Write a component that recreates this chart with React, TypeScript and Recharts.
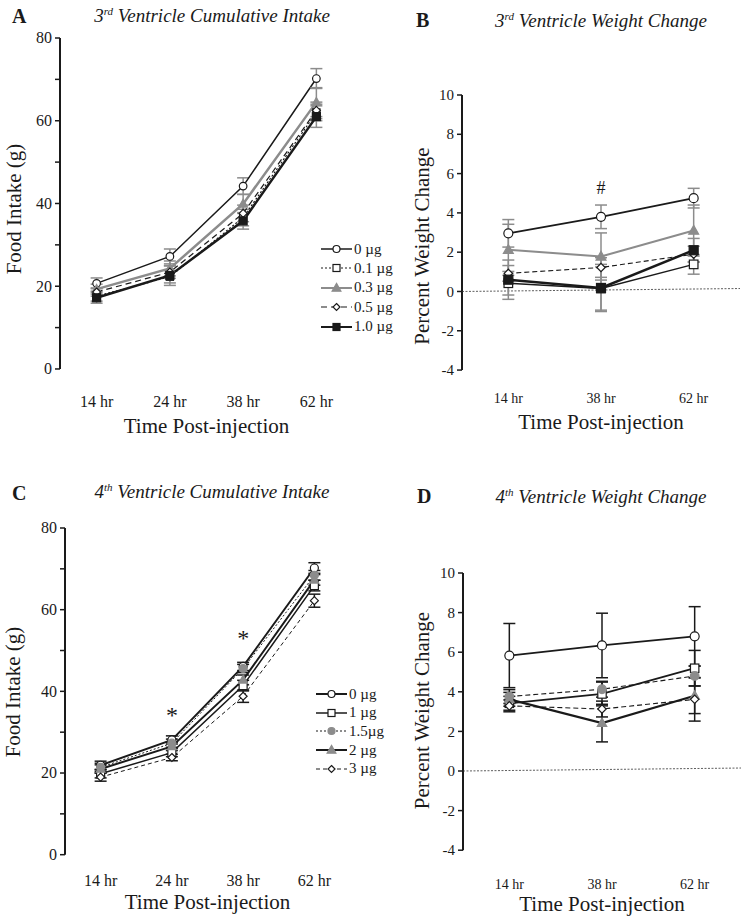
import React from 'react';
import { LineChart, Line, XAxis, YAxis, ErrorBar, ReferenceLine, ReferenceDot } from 'recharts';

const FONT = "'Liberation Serif', 'Times New Roman', serif";
const GREY = '#8c8c8c';
const INK = '#1a1a1a';

// ---- 3rd ventricle (A, B) ----
const timesA = ['14 hr', '24 hr', '38 hr', '62 hr'];
const intake3_0 = [20.7, 27.2, 44.2, 70.2];
const intake3_0e = [1.3, 1.8, 2.0, 2.4];
const intake3_01 = [17.6, 22.3, 36.6, 62.0];
const intake3_01e = [1.2, 1.5, 2.0, 2.0];
const intake3_03 = [19.3, 24.3, 39.9, 64.5];
const intake3_03e = [1.2, 1.8, 2.3, 3.5];
const intake3_05 = [18.6, 23.4, 37.6, 62.5];
const intake3_05e = [1.0, 1.5, 2.0, 2.0];
const intake3_10 = [17.2, 22.6, 35.8, 61.0];
const intake3_10e = [1.3, 2.4, 2.0, 2.6];

const timesB = ['14 hr', '38 hr', '62 hr'];
const weight3_0 = [2.96, 3.8, 4.75];
const weight3_0e = [0.7, 0.6, 0.5];
const weight3_01 = [0.42, 0.15, 1.38];
const weight3_01e = [0.6, 1.1, 0.5];
const weight3_03 = [2.12, 1.78, 3.1];
const weight3_03e = [1.3, 1.2, 1.3];
const weight3_05 = [0.92, 1.22, 1.9];
const weight3_05e = [0.4, 0.5, 0.4];
const weight3_10 = [0.6, 0.18, 2.1];
const weight3_10e = [1.0, 1.2, 0.6];
const notesB = [{ at: '38 hr', y: 5.3, text: '#' }];

// ---- 4th ventricle (C, D) ----
const timesC = ['14 hr', '24 hr', '38 hr', '62 hr'];
const intake4_0 = [21.9, 28.1, 46.1, 70.2];
const intake4_0e = [1.0, 1.0, 1.0, 1.3];
const intake4_1 = [19.8, 25.0, 41.4, 65.9];
const intake4_1e = [1.0, 1.0, 1.3, 1.3];
const intake4_15 = [21.4, 27.3, 45.6, 68.4];
const intake4_15e = [1.0, 1.0, 1.0, 1.2];
const intake4_2 = [21.0, 26.5, 42.8, 67.3];
const intake4_2e = [1.0, 1.0, 1.2, 1.3];
const intake4_3 = [19.0, 23.8, 38.8, 62.2];
const intake4_3e = [1.0, 0.8, 1.5, 1.6];
const notesC = [
  { at: '24 hr', y: 34.3, text: '*' },
  { at: '38 hr', y: 53.2, text: '*' },
];

const timesD = ['14 hr', '38 hr', '62 hr'];
const weight4_0 = [5.83, 6.34, 6.8];
const weight4_0e = [1.62, 1.63, 1.5];
const weight4_1 = [3.42, 3.89, 5.19];
const weight4_1e = [0.35, 0.6, 0.9];
const weight4_15 = [3.76, 4.13, 4.8];
const weight4_15e = [0.35, 0.4, 0.5];
const weight4_2 = [3.62, 2.42, 3.8];
const weight4_2e = [0.35, 0.95, 0.9];
const weight4_3 = [3.29, 3.13, 3.62];
const weight4_3e = [0.3, 0.4, 1.1];

type Kind = 'circle' | 'square' | 'triangle' | 'diamond';

interface Series {
  name: string;
  vals: number[];
  errs: number[];
  stroke: string;
  width: number;
  dash?: string;
  kind: Kind;
  fill: string;
  mStroke: string;
  size: number;
  errColor: string;
}

const Marker = ({ cx, cy, kind, fill, stroke, size }: any) => {
  if (cx == null || cy == null) return null;
  const sw = 1.2;
  if (kind === 'circle') return <circle cx={cx} cy={cy} r={size} fill={fill} stroke={stroke} strokeWidth={sw} />;
  if (kind === 'square')
    return <rect x={cx - size} y={cy - size} width={size * 2} height={size * 2} fill={fill} stroke={stroke} strokeWidth={sw} />;
  if (kind === 'triangle')
    return (
      <polygon
        points={`${cx},${cy - size * 1.15} ${cx + size * 1.1},${cy + size * 0.8} ${cx - size * 1.1},${cy + size * 0.8}`}
        fill={fill}
        stroke={stroke}
        strokeWidth={sw}
      />
    );
  return (
    <polygon
      points={`${cx},${cy - size} ${cx + size},${cy} ${cx},${cy + size} ${cx - size},${cy}`}
      fill={fill}
      stroke={stroke}
      strokeWidth={sw}
    />
  );
};

const seriesA: Series[] = [
  { name: '0 µg', vals: intake3_0, errs: intake3_0e, stroke: INK, width: 1.5, kind: 'circle', fill: '#fff', mStroke: INK, size: 3.8, errColor: GREY },
  { name: '0.1 µg', vals: intake3_01, errs: intake3_01e, stroke: INK, width: 1.2, dash: '2 2', kind: 'square', fill: '#fff', mStroke: INK, size: 3.6, errColor: GREY },
  { name: '0.3 µg', vals: intake3_03, errs: intake3_03e, stroke: GREY, width: 2.5, kind: 'triangle', fill: GREY, mStroke: GREY, size: 4, errColor: GREY },
  { name: '0.5 µg', vals: intake3_05, errs: intake3_05e, stroke: INK, width: 1.2, dash: '6 4', kind: 'diamond', fill: '#fff', mStroke: INK, size: 4, errColor: GREY },
  { name: '1.0 µg', vals: intake3_10, errs: intake3_10e, stroke: INK, width: 2.5, kind: 'square', fill: INK, mStroke: INK, size: 4, errColor: GREY },
];

const seriesB: Series[] = [
  { name: '0 µg', vals: weight3_0, errs: weight3_0e, stroke: INK, width: 1.8, kind: 'circle', fill: '#fff', mStroke: INK, size: 4.5, errColor: GREY },
  { name: '0.1 µg', vals: weight3_01, errs: weight3_01e, stroke: INK, width: 1.5, kind: 'square', fill: '#fff', mStroke: INK, size: 4.3, errColor: GREY },
  { name: '0.3 µg', vals: weight3_03, errs: weight3_03e, stroke: GREY, width: 2, kind: 'triangle', fill: GREY, mStroke: GREY, size: 4.5, errColor: GREY },
  { name: '0.5 µg', vals: weight3_05, errs: weight3_05e, stroke: INK, width: 1.1, dash: '5 3', kind: 'diamond', fill: '#fff', mStroke: INK, size: 4.2, errColor: GREY },
  { name: '1.0 µg', vals: weight3_10, errs: weight3_10e, stroke: INK, width: 2.5, kind: 'square', fill: INK, mStroke: INK, size: 4.5, errColor: GREY },
];

const seriesC: Series[] = [
  { name: '0 µg', vals: intake4_0, errs: intake4_0e, stroke: INK, width: 2, kind: 'circle', fill: '#fff', mStroke: INK, size: 4, errColor: INK },
  { name: '1 µg', vals: intake4_1, errs: intake4_1e, stroke: INK, width: 1.5, kind: 'square', fill: '#fff', mStroke: INK, size: 4, errColor: INK },
  { name: '1.5µg', vals: intake4_15, errs: intake4_15e, stroke: INK, width: 1, dash: '2 2', kind: 'circle', fill: GREY, mStroke: GREY, size: 4, errColor: INK },
  { name: '2 µg', vals: intake4_2, errs: intake4_2e, stroke: INK, width: 2, kind: 'triangle', fill: GREY, mStroke: GREY, size: 4, errColor: INK },
  { name: '3 µg', vals: intake4_3, errs: intake4_3e, stroke: INK, width: 1, dash: '4 3', kind: 'diamond', fill: '#fff', mStroke: INK, size: 4, errColor: INK },
];

const seriesD: Series[] = [
  { name: '0 µg', vals: weight4_0, errs: weight4_0e, stroke: INK, width: 1.8, kind: 'circle', fill: '#fff', mStroke: INK, size: 4.5, errColor: INK },
  { name: '1 µg', vals: weight4_1, errs: weight4_1e, stroke: INK, width: 1.8, kind: 'square', fill: '#fff', mStroke: INK, size: 4.2, errColor: INK },
  { name: '1.5µg', vals: weight4_15, errs: weight4_15e, stroke: INK, width: 1.1, dash: '5 3', kind: 'circle', fill: GREY, mStroke: GREY, size: 4.3, errColor: INK },
  { name: '2 µg', vals: weight4_2, errs: weight4_2e, stroke: INK, width: 2.2, kind: 'triangle', fill: GREY, mStroke: GREY, size: 4.3, errColor: INK },
  { name: '3 µg', vals: weight4_3, errs: weight4_3e, stroke: INK, width: 1.1, dash: '5 3', kind: 'diamond', fill: '#fff', mStroke: INK, size: 4.2, errColor: INK },
];

const YTick = ({ x, y, payload, every, fs }: any) => {
  if (payload.value % every !== 0) return null;
  return (
    <text x={x} y={y} dy={fs * 0.34} textAnchor="end" fontSize={fs} fontFamily={FONT} fill={INK}>
      {payload.value}
    </text>
  );
};

interface PanelProps {
  left: number;
  top: number;
  width: number;
  height: number;
  mTop: number;
  mRight: number;
  yWidth: number;
  yDomain: [number, number];
  yTicks: number[];
  every: number;
  yFont: number;
  xFont: number;
  labH: number;
  tickGap: number;
  titleOffset: number;
  cats: string[];
  series: Series[];
  yLabel: string;
  yDx: number;
  yDy: number;
  zero?: boolean;
  notes?: { at: string; y: number; text: string }[];
  noteSize?: number;
}

const Panel = (p: PanelProps) => {
  const n = p.cats.length;
  const rows = p.cats.map((c, i) => {
    const r: any = { x: i + 0.5, cat: c };
    p.series.forEach((s, k) => {
      r['v' + k] = s.vals[i];
      r['e' + k] = s.errs[i];
    });
    return r;
  });
  const edgeTicks = Array.from({ length: n + 1 }, (_, i) => i);
  const labTicks = p.cats.map((_, i) => i + 0.5);
  const yMin = p.yTicks[0];
  const yMax = p.yTicks[p.yTicks.length - 1];
  return (
    <div style={{ position: 'absolute', left: p.left, top: p.top }}>
      <LineChart width={p.width} height={p.height} data={rows} margin={{ top: p.mTop, right: p.mRight, bottom: 0, left: 0 }}>
        <XAxis
          xAxisId="edge"
          type="number"
          dataKey="x"
          domain={[0, n]}
          ticks={edgeTicks}
          tick={false}
          height={0}
          axisLine={{ stroke: INK, strokeWidth: 2 }}
          tickLine={{ stroke: INK, strokeWidth: 1.5 }}
          tickSize={6}
        />
        <XAxis
          xAxisId="lab"
          type="number"
          dataKey="x"
          domain={[0, n]}
          ticks={labTicks}
          tickFormatter={(v: number) => p.cats[Math.floor(v)]}
          axisLine={false}
          tickLine={false}
          height={p.labH}
          tickMargin={p.tickGap}
          tick={{ fill: INK, fontSize: p.xFont, fontFamily: FONT }}
          label={{ value: 'Time Post-injection', position: 'insideBottom', offset: p.titleOffset, fontSize: 21, fontFamily: FONT, fill: INK }}
        />
        <YAxis
          type="number"
          domain={p.yDomain}
          ticks={p.yTicks}
          width={p.yWidth}
          axisLine={false}
          tickLine={{ stroke: INK, strokeWidth: 1.5 }}
          tickSize={5}
          tickMargin={3}
          interval={0}
          tick={(t: any) => <YTick key={t.index} {...t} every={p.every} fs={p.yFont} />}
          label={{ value: p.yLabel, angle: -90, position: 'center', dx: p.yDx, dy: p.yDy, fontSize: 21, fontFamily: FONT, fill: INK }}
        />
        <ReferenceLine xAxisId="lab" segment={[{ x: 0, y: yMin }, { x: 0, y: yMax }]} stroke={INK} strokeWidth={2} />
        {p.zero && (
          <ReferenceLine xAxisId="lab" segment={[{ x: 0, y: 0 }, { x: n, y: 0.15 }]} stroke="#333" strokeWidth={0.8} strokeDasharray="2 1.5" />
        )}
        {p.series.map((s, k) => (
          <Line
            key={s.name}
            xAxisId="lab"
            dataKey={'v' + k}
            name={s.name}
            stroke={s.stroke}
            strokeWidth={s.width}
            strokeDasharray={s.dash}
            isAnimationActive={false}
            activeDot={false}
            dot={(d: any) => <Marker key={d.index} cx={d.cx} cy={d.cy} kind={s.kind} fill={s.fill} stroke={s.mStroke} size={s.size} />}
          >
            <ErrorBar dataKey={'e' + k} width={6} stroke={s.errColor} strokeWidth={1.5} direction="y" />
          </Line>
        ))}
        {(p.notes || []).map((m) => (
          <ReferenceDot
            key={m.at + m.text}
            xAxisId="lab"
            x={p.cats.indexOf(m.at) + 0.5}
            y={m.y}
            r={1}
            fill="none"
            stroke="none"
            label={{ value: m.text, position: 'center', fontSize: p.noteSize || 20, fontFamily: FONT, fill: INK }}
          />
        ))}
      </LineChart>
    </div>
  );
};

const LegendBox = ({ left, top, gap, items }: { left: number; top: number; gap: number; items: Series[] }) => (
  <div style={{ position: 'absolute', left, top, fontFamily: FONT, fontSize: 15, color: INK }}>
    {items.map((s, i) => (
      <div key={s.name} style={{ position: 'absolute', left: 0, top: i * gap, height: 16, display: 'flex', alignItems: 'center', whiteSpace: 'nowrap' }}>
        <svg width={32} height={14}>
          <line x1={0} x2={31} y1={7} y2={7} stroke={s.stroke} strokeWidth={Math.min(s.width, 2)} strokeDasharray={s.dash} />
          <Marker cx={15.5} cy={7} kind={s.kind} fill={s.fill} stroke={s.mStroke} size={s.kind === 'triangle' ? 4 : 3.5} />
        </svg>
        <span style={{ marginLeft: 1 }}>{s.name}</span>
      </div>
    ))}
  </div>
);

const Heading = ({ left, top, letter, title, sup, rest, titleCenter, titleTop }: any) => (
  <>
    <div style={{ position: 'absolute', left, top, fontFamily: FONT, fontWeight: 'bold', fontSize: 20, lineHeight: 1, color: INK }}>{letter}</div>
    <div
      style={{
        position: 'absolute',
        left: titleCenter - 170,
        width: 340,
        top: titleTop,
        textAlign: 'center',
        fontFamily: FONT,
        fontStyle: 'italic',
        fontSize: 19,
        lineHeight: 1,
        color: INK,
        whiteSpace: 'nowrap',
      }}
    >
      {title}
      <sup style={{ fontSize: 11, verticalAlign: 'top', lineHeight: 1 }}>{sup}</sup>
      {rest}
    </div>
  </>
);

export default function App() {
  return (
    <div style={{ position: 'absolute', left: 0, top: 0, width: 741, height: 917, background: '#fff', overflow: 'hidden' }}>
      <Heading left={12} top={6} letter="A" title="3" sup="rd" rest=" Ventricle Cumulative Intake" titleCenter={212} titleTop={6} />
      <Heading left={416} top={10} letter="B" title="3" sup="rd" rest=" Ventricle Weight Change" titleCenter={601} titleTop={11} />
      <Heading left={12} top={483} letter="C" title="4" sup="th" rest=" Ventricle Cumulative Intake" titleCenter={212} titleTop={482} />
      <Heading left={417} top={486} letter="D" title="4" sup="th" rest=" Ventricle Weight Change" titleCenter={601} titleTop={487} />

      <Panel
        left={0}
        top={0}
        width={370}
        height={445}
        mTop={38}
        mRight={17}
        yWidth={60}
        yDomain={[-4.6, 80]}
        yTicks={[0, 10, 20, 30, 40, 50, 60, 70, 80]}
        every={20}
        yFont={16}
        xFont={16}
        labH={57}
        tickGap={2}
        titleOffset={12}
        cats={timesA}
        series={seriesA}
        yLabel="Food Intake (g)"
        yDx={-16}
        yDy={-4}
      />
      <LegendBox left={321} top={241} gap={19.4} items={seriesA} />

      <Panel
        left={380}
        top={0}
        width={361}
        height={440}
        mTop={95}
        mRight={1}
        yWidth={82}
        yDomain={[-4.76, 10]}
        yTicks={[-4, -2, 0, 2, 4, 6, 8, 10]}
        every={2}
        yFont={15}
        xFont={14}
        labH={55}
        tickGap={2}
        titleOffset={11}
        cats={timesB}
        series={seriesB}
        yLabel="Percent  Weight Change"
        yDx={1}
        yDy={6}
        zero
        notes={notesB}
        noteSize={18}
      />

      <Panel
        left={0}
        top={480}
        width={370}
        height={437}
        mTop={48}
        mRight={20}
        yWidth={65}
        yDomain={[-3.26, 80]}
        yTicks={[0, 10, 20, 30, 40, 50, 60, 70, 80]}
        every={20}
        yFont={16}
        xFont={16}
        labH={49}
        tickGap={1}
        titleOffset={8}
        cats={timesC}
        series={seriesC}
        yLabel="Food Intake (g)"
        yDx={-20}
        yDy={-6}
        notes={notesC}
        noteSize={24}
      />
      <LegendBox left={316} top={686} gap={18.7} items={seriesC} />

      <Panel
        left={380}
        top={480}
        width={361}
        height={437}
        mTop={93}
        mRight={0}
        yWidth={83}
        yDomain={[-5, 10]}
        yTicks={[-4, -2, 0, 2, 4, 6, 8, 10]}
        every={2}
        yFont={15}
        xFont={14}
        labH={47}
        tickGap={3}
        titleOffset={6}
        cats={timesD}
        series={seriesD}
        yLabel="Percent  Weight Change"
        yDx={0}
        yDy={-11}
        zero
      />
    </div>
  );
}
